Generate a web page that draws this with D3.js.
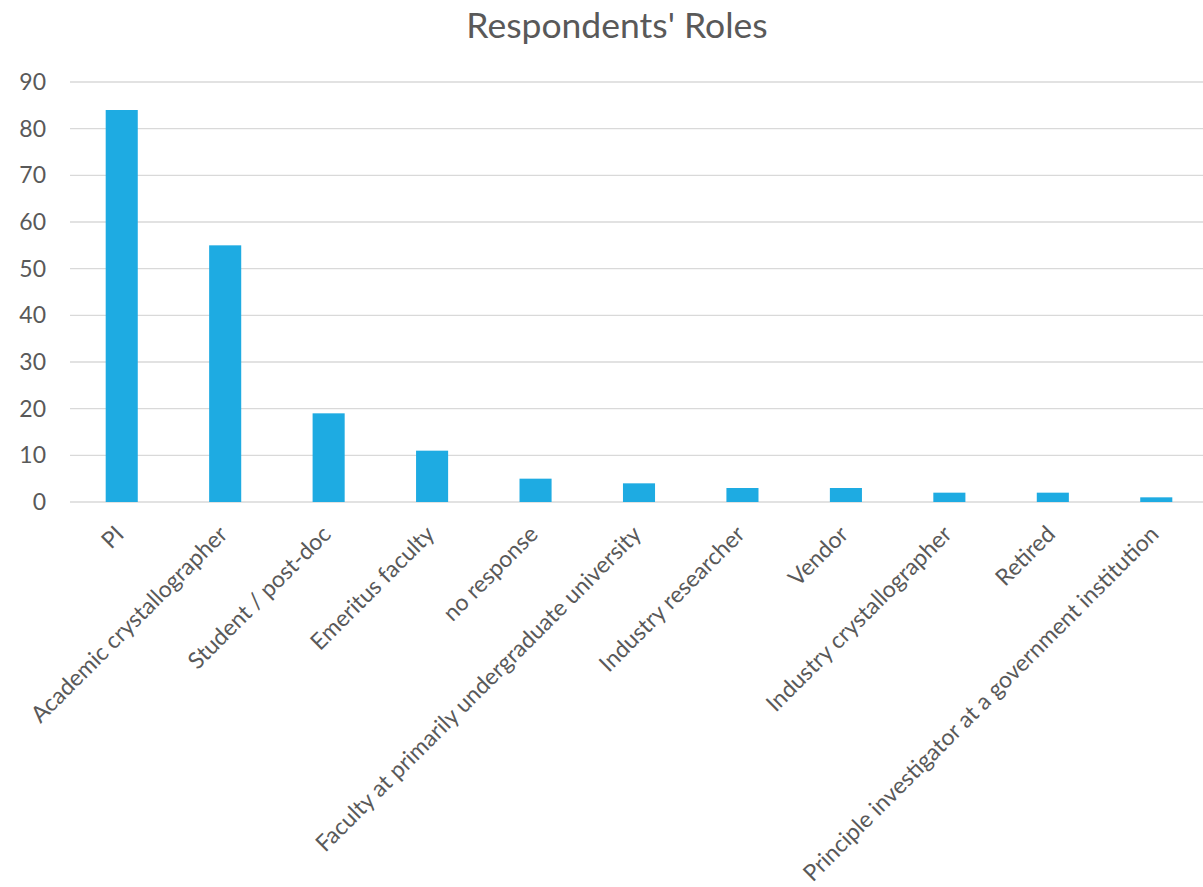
<!DOCTYPE html>
<html>
<head>
<meta charset="utf-8">
<script src="https://cdn.jsdelivr.net/npm/d3@7"></script>
<style>
  body { margin: 0; background: #fff; }
  text { font-family: "Lato", "Open Sans", sans-serif; fill: #595959; }
</style>
</head>
<body>
<div id="chart"></div>
<script>
var roles = ["PI", "Academic crystallographer", "Student / post-doc", "Emeritus faculty",
    "no response", "Faculty at primarily undergraduate university", "Industry researcher",
    "Vendor", "Industry crystallographer", "Retired",
    "Principle investigator at a government institution"];
var counts = [84, 55, 19, 11, 5, 4, 3, 3, 2, 2, 1];
var yTicks = [0, 10, 20, 30, 40, 50, 60, 70, 80, 90];

(function () {
    var width = 1203, height = 887;
    var left = 70, right = 1208, top = 82, bottom = 502;

    var svg = d3.select("#chart").append("svg")
        .attr("width", width)
        .attr("height", height);

    var x = d3.scaleBand().domain(roles).range([left, right]).paddingInner(0.69).paddingOuter(0.345);
    var y = d3.scaleLinear().domain([0, 90]).range([bottom, top]);

    // gridlines
    svg.append("g")
        .selectAll("line")
        .data(yTicks)
        .join("line")
        .attr("x1", left)
        .attr("x2", width)
        .attr("y1", d => y(d))
        .attr("y2", d => y(d))
        .attr("stroke", "#d9d9d9")
        .attr("stroke-width", 1.3);

    // y labels
    svg.append("g")
        .selectAll("text")
        .data(yTicks)
        .join("text")
        .attr("x", 46)
        .attr("y", d => y(d))
        .attr("dy", "0.35em")
        .attr("text-anchor", "end")
        .attr("font-size", 23)
        .text(d => d);

    svg.append("g")
        .selectAll("rect")
        .data(counts)
        .join("rect")
        .attr("x", (d, i) => x(roles[i]))
        .attr("width", x.bandwidth())
        .attr("y", d => y(d))
        .attr("height", d => y(0) - y(d))
        .attr("fill", "#1eabe2");

    // category labels, rotated
    svg.append("g")
        .selectAll("text")
        .data(roles)
        .join("text")
        .attr("transform", d => "translate(" + (x(d) + x.bandwidth() / 2 - 2) + "," + (bottom + 28) + ") rotate(-45)")
        .attr("text-anchor", "end")
        .attr("dy", "0.35em")
        .attr("font-size", 23)
        .text(d => d);

    svg.append("text")
        .attr("x", 617)
        .attr("y", 38)
        .attr("text-anchor", "middle")
        .attr("font-size", 35.5)
        .text("Respondents' Roles");
})();
</script>
</body>
</html>
